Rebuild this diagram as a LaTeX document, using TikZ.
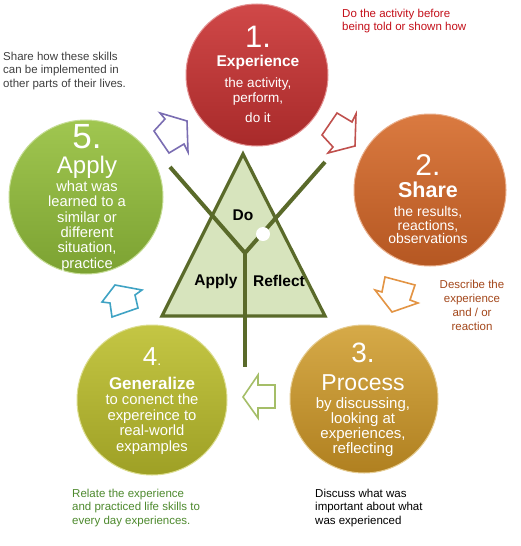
\documentclass[tikz,border=0pt]{standalone}
\usepackage{fontspec}
\setmainfont{Liberation Sans}
\definecolor{redA}{HTML}{D04848}
\definecolor{redB}{HTML}{A82A2A}
\definecolor{orA}{HTML}{DA7A40}
\definecolor{orB}{HTML}{B55722}
\definecolor{goA}{HTML}{D6AA48}
\definecolor{goB}{HTML}{B08020}
\definecolor{ygA}{HTML}{C4C644}
\definecolor{ygB}{HTML}{9EA025}
\definecolor{grA}{HTML}{A0C650}
\definecolor{grB}{HTML}{7CA232}
\definecolor{triFill}{HTML}{D7E4BD}
\definecolor{olive}{HTML}{5A6A2A}
\definecolor{arPurple}{HTML}{7A6DB2}
\definecolor{arRed}{HTML}{C0504D}
\definecolor{arOrange}{HTML}{E39444}
\definecolor{arGreen}{HTML}{A5BE68}
\definecolor{arBlue}{HTML}{3FA3C4}
\definecolor{noteRed}{HTML}{C4101A}
\definecolor{noteGray}{HTML}{404040}
\definecolor{noteGreen}{HTML}{4E8A2E}
\definecolor{noteBrown}{HTML}{A4481C}
\begin{document}
\begin{tikzpicture}[x=1pt,y=-1pt,
  cball/.style n args={3}{circle, inner sep=0pt, minimum size=#1, top color=#2, bottom color=#3, draw=#2!60!white, line width=1pt},
  wt/.style={text=white, inner sep=0pt, align=center},
  numf/.style={wt, font=\fontsize{#1}{#1}\selectfont},
  ttlb/.style={wt, font=\bfseries\fontsize{#1}{#1}\selectfont},
  ttlr/.style={wt, font=\fontsize{#1}{#1}\selectfont},
  bodyf/.style 2 args={wt, font=\fontsize{#1}{#2}\selectfont},
  note/.style={inner sep=0pt, align=left, font=\fontsize{11.5}{13.5}\selectfont},
  arr/.style={line width=1.6pt, line join=miter, fill=white},
  tri/.style={fill=triFill, draw=olive, line width=3.2pt, line join=miter},
  ybar/.style={draw=olive, line width=4pt},
  tlab/.style={inner sep=0pt, font=\bfseries\fontsize{15.5}{15.5}\selectfont}
]
\useasboundingbox (0,0) rectangle (521,546);
\fill[white] (0,0) rectangle (521,546);

% circles
\node[cball={142pt}{redA}{redB}] (c1) at (257,75) {};
\node[cball={152pt}{orA}{orB}] (c2) at (430,190) {};
\node[cball={148pt}{goA}{goB}] (c3) at (364,399) {};
\node[cball={150pt}{ygA}{ygB}] (c4) at (152,400) {};
\node[cball={154pt}{grA}{grB}] (c5) at (86,197) {};

% circle 1
\node[numf=31] (n1) at (258,37) {1.};
\node[ttlb=15.5] (t1) at (258,62) {Experience};
\node[bodyf={13.5}{15}] (b1) at (258,100) {the activity,\\perform,\\[5pt]do it};
% circle 2
\node[numf=30] (n2) at (428,165) {2.};
\node[ttlb=21.5] (t2) at (428,190) {Share};
\node[bodyf={14}{13.3}] (b2) at (428,225) {the results,\\reactions,\\observations};
% circle 3
\node[numf=28] (n3) at (363,353) {3.};
\node[ttlr=23] (t3) at (363,383) {Process};
\node[bodyf={15}{15}] (b3) at (363,427) {by discussing,\\looking at\\experiences,\\reflecting};
% circle 4
\node[numf=26] (n4) at (152,357) {4\fontsize{14}{14}\selectfont.};
\node[ttlb=17] (t4) at (152,383) {Generalize};
\node[bodyf={14.8}{15.5}] (b4) at (152,424) {to conenct the\\expereince to\\real-world\\expamples};
% circle 5
\node[numf=35] (n5) at (87,137) {5.};
\node[ttlr=24] (t5) at (87,167) {Apply};
\node[bodyf={14.7}{15.4}] (b5) at (87,226) {what was\\learned to a\\similar or\\different\\situation,\\practice};

% triangle and Y
\coordinate (ta) at (243,154);
\coordinate (tr) at (325,316);
\coordinate (tl) at (162,316);
\draw[tri] (ta) -- (tr) -- (tl) -- cycle;
\coordinate (yj) at (245,253);
\coordinate (ya) at (170,167);
\coordinate (yb) at (325,162);
\coordinate (ys) at (245,367);
\draw[ybar] (ya) -- (yj) -- (yb);
\draw[ybar] (yj) -- (ys);
\fill[white] (263,234) circle (7);
\node[tlab] (ldo) at (243,215) {Do};
\node[tlab] (lap) at (216,281) {Apply};
\node[tlab] (lre) at (279,281) {Reflect};

% block arrows
\draw[arr, draw=arRed] (337,113) -- (352,122) -- (356,114) -- (355,146) -- (328,153) -- (333,147) -- (322,135) -- cycle;
\draw[arr, draw=arPurple] (169,153) -- (184,144) -- (188,152) -- (187,121) -- (160,113) -- (165,119) -- (154,131) -- cycle;
\draw[arr, draw=arOrange] (385,277) -- (415,285) -- (410,300) -- (418,303) -- (392,312) -- (375,290) -- (382,292) -- cycle;
\draw[arr, draw=arGreen] (243,397) -- (258,375) -- (258,385) -- (275,385) -- (275,408) -- (258,408) -- (258,418) -- cycle;
\draw[arr, draw=arBlue] (115,285) -- (142,290) -- (135,295) -- (138,308) -- (112,317) -- (110,303) -- (102,302) -- cycle;

% notes
\node[note, text=noteRed, anchor=north west] (nr) at (342,8.5) {Do the activity before\\being told or shown how};
\node[note, text=noteGray, anchor=north west] (ng) at (3,51.5) {Share how these skills\\can be implemented in\\other parts of their lives.};
\node[note, text=noteBrown, anchor=north, align=center, font=\fontsize{11.5}{14}\selectfont] (nb) at (472,279.5) {Describe the\\experience\\and / or\\reaction};
\node[note, text=black, anchor=north west] (nd) at (315,488.5) {Discuss what was\\important about what\\was experienced};
\node[note, text=noteGreen, anchor=north west] (nl) at (72,488.5) {Relate the experience\\and practiced life skills to\\every day experiences.};
\end{tikzpicture}
\end{document}
